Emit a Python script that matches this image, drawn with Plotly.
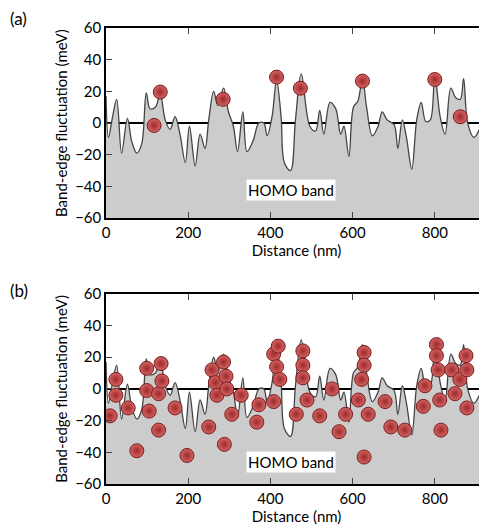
import plotly.graph_objects as go
from plotly.subplots import make_subplots

# band-edge profile (same for both panels)
dist = [0, 6, 16, 26, 38, 52, 63, 75, 87, 98, 107, 120, 132, 144, 156, 168, 180, 193, 203, 217,
        229, 241, 250, 262, 272, 286, 298, 310, 320, 333, 343, 358, 372, 384, 392, 404, 415, 426,
        434, 449, 461, 475, 496, 510, 520, 530, 545, 559, 571, 579, 591, 602, 613, 624, 634, 648,
        662, 672, 684, 701, 710, 721, 731, 744, 756, 767, 778, 789, 800, 813, 825, 839, 851, 862,
        870, 880, 895, 912, 927]
fluct = [17, -9, 4, 15, -19, 3, -12, -19, -13, 19, 9, 10, 18, 2, -4, 4, -7, -25, -2, -27,
         -7, -16, 2, 20, 11, 22, 7, -2, -18, 7, -18, -11, 0, 0, -8, 4, 27, 4,
         -25, -30, 2, 31, -2, -5, 8, -7, 13, 9, -7, -2, -21, 10, 14, 28, 10, -8,
         -2, 7, 2, -1, -16, 2, -9, -29, 2, 13, 1, 2, 30, 4, -7, 22, 16, 15,
         28, 0, -9, -2, 10]

# panel (a) states
a_x = [117, 132, 285, 415, 473, 624, 800, 862]
a_y = [-1.5, 19.6, 15, 29, 22, 26.5, 27.5, 4]

# panel (b) states
b_x = [10, 24, 24, 54, 75, 99, 99, 105, 128, 128, 134, 136, 168, 197, 250, 258, 266, 270,
       286, 292, 294, 288, 306, 329, 372, 367, 408, 408, 419, 415, 423,
       463, 479, 479, 479, 489, 520, 550, 567, 583, 614, 622, 628, 628, 638, 628, 679, 693,
       727, 772, 776, 804, 804, 808, 812, 815, 841, 849, 861, 876, 878, 878, 927]
b_y = [-17, 6, -4, -12, -39, 13, -1, -14, -3, -26, 16, 5, -12, -42, -24, 12, 4, -4,
       17, 8, 0, -35, -16, -4, -10, -21, -8, 22, 27, 14, 6,
       -16, 24, 15, 7, -7, -17, 0, -27, -16, -7, 6, 23, 15, -16, -43, -8, -24,
       -26, -11, 2, 28, 21, 12, -7, -26, 12, -3, 6, 21, 12, -12, -8]

fig = make_subplots(rows=2, cols=1)

for row, (mx, my) in enumerate([(a_x, a_y), (b_x, b_y)], start=1):
    fig.add_trace(go.Scatter(x=[dist[0], dist[-1]], y=[-60, -60], mode="lines",
                             line=dict(width=0), showlegend=False, hoverinfo="skip"), row=row, col=1)
    fig.add_trace(go.Scatter(x=dist, y=fluct, mode="lines", fill="tonexty",
                             fillcolor="#cccccc", line=dict(color="#444444", width=1.3, shape="spline"),
                             showlegend=False), row=row, col=1)
    fig.add_trace(go.Scatter(x=mx, y=my, mode="markers", showlegend=False,
                             marker=dict(size=14, color="#d46464",
                                         gradient=dict(type="radial", color="#9e2a2a"),
                                         line=dict(color="#7a1c1c", width=1))), row=row, col=1)

font = dict(family="Lato, Open Sans, sans-serif", size=15, color="black")
for row in (1, 2):
    fig.update_xaxes(range=[0, 927], tickvals=[0, 200, 400, 600, 800], ticks="inside",
                     ticklen=6, showline=True, linecolor="black", linewidth=1.5, mirror="ticks",
                     showgrid=False, zeroline=False, title_text="Distance (nm)",
                     title_standoff=0, tickfont=font, title_font=font, automargin=False,
                     row=row, col=1)
    fig.update_yaxes(range=[-60, 60], dtick=20, ticks="inside", ticklen=6, showline=True,
                     linecolor="black", linewidth=1.5, mirror="ticks", showgrid=False,
                     zeroline=True, zerolinecolor="black", zerolinewidth=1.5,
                     title_text="Band-edge fluctuation (meV)", title_standoff=4,
                     tickfont=font, title_font=font, automargin=False, row=row, col=1)

# page body has an 8px margin, so the figure is shrunk by that much
fig.update_layout(
    width=479, height=524, margin=dict(l=98, r=0, t=20, b=48),
    plot_bgcolor="white", paper_bgcolor="white",
    yaxis=dict(domain=[0.583, 1]), yaxis2=dict(domain=[0, 0.417]),
)
fig.add_annotation(text="HOMO band", x=449, y=-42, xref="x", yref="y", showarrow=False,
                   bgcolor="white", font=font)
fig.add_annotation(text="HOMO band", x=449, y=-46, xref="x2", yref="y2", showarrow=False,
                   bgcolor="white", font=font)
for txt, ypix in (("(a)", 18), ("(b)", 290)):
    fig.add_annotation(text=txt, x=-98 / 381, y=1 + (28 - ypix) / 456, xref="paper", yref="paper",
                       showarrow=False, xanchor="left", yanchor="middle",
                       font=dict(family="Lato, sans-serif", size=17, color="black"))

fig.write_html("out.html")
